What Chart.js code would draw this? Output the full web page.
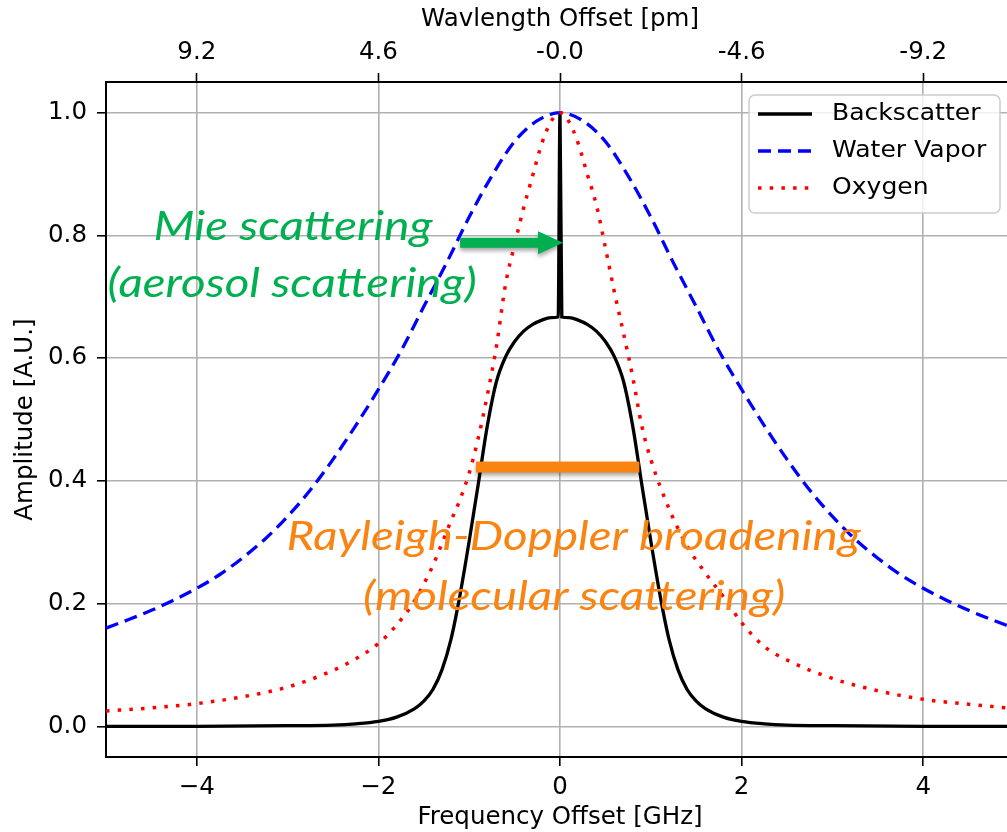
<!DOCTYPE html>
<html>
<head>
<meta charset="utf-8">
<script src="https://cdn.jsdelivr.net/npm/chart.js@4.4.1/dist/chart.umd.min.js"></script>
<style>
  html, body { margin: 0; padding: 0; overflow: hidden; background: #fff; }
  #wrap { position: absolute; left: 0; top: 0; width: 1020px; height: 832px; }
</style>
</head>
<body>
<div id="wrap"><canvas id="myChart" width="1020" height="832"></canvas></div>
<script>
// values (frequency offset in GHz, amplitude in A.U.)
var seriesNames = ["Backscatter", "Water Vapor", "Oxygen"];

var freqBack = [-5, -4, -3, -2.5, -2.25, -2, -1.8, -1.6, -1.5, -1.4, -1.3, -1.2, -1.1, -1, -0.9, -0.8, -0.7, -0.6, -0.5, -0.4, -0.3, -0.2, -0.1, -0.02, 0,
  0.02, 0.1, 0.2, 0.3, 0.4, 0.5, 0.6, 0.7, 0.8, 0.9, 1, 1.1, 1.2, 1.3, 1.4, 1.5, 1.6, 1.8, 2, 2.25, 2.5, 3, 4, 5];
var ampBack = [0, 0, 0.001, 0.002, 0.004, 0.008, 0.015, 0.029, 0.041, 0.06, 0.092, 0.142, 0.215, 0.302, 0.395, 0.49, 0.562, 0.602, 0.627, 0.644, 0.655, 0.662, 0.666, 0.667, 1.0,
  0.667, 0.666, 0.662, 0.655, 0.644, 0.627, 0.602, 0.562, 0.49, 0.395, 0.302, 0.215, 0.142, 0.092, 0.06, 0.041, 0.029, 0.015, 0.008, 0.004, 0.002, 0.001, 0, 0];

var freqWater = [-5, -4.75, -4.5, -4.25, -4, -3.75, -3.5, -3.25, -3, -2.75, -2.5, -2.25, -2, -1.75, -1.5, -1.25, -1, -0.75, -0.5, -0.25, 0,
  0.25, 0.5, 0.75, 1, 1.25, 1.5, 1.75, 2, 2.25, 2.5, 2.75, 3, 3.25, 3.5, 3.75, 4, 4.25, 4.5, 4.75, 5];
var ampWater = [0.16, 0.174, 0.189, 0.206, 0.225, 0.247, 0.274, 0.305, 0.342, 0.385, 0.435, 0.49, 0.549, 0.612, 0.684, 0.755, 0.83, 0.897, 0.953, 0.987, 1.0,
  0.987, 0.953, 0.897, 0.83, 0.755, 0.684, 0.612, 0.549, 0.49, 0.435, 0.385, 0.342, 0.305, 0.274, 0.247, 0.225, 0.206, 0.189, 0.174, 0.16];

var freqOxy = [-5, -4.5, -4, -3.5, -3, -2.5, -2.25, -2, -1.8, -1.6, -1.5, -1.4, -1.3, -1.2, -1.1, -1, -0.9, -0.8, -0.7, -0.6, -0.5, -0.4, -0.3, -0.2, -0.1, 0,
  0.1, 0.2, 0.3, 0.4, 0.5, 0.6, 0.7, 0.8, 0.9, 1, 1.2, 1.4, 1.6, 1.8, 2, 2.25, 2.5, 3, 3.5, 4, 4.5, 5];
var ampOxy = [0.025, 0.03, 0.037, 0.048, 0.064, 0.091, 0.11, 0.135, 0.165, 0.205, 0.232, 0.262, 0.298, 0.335, 0.37, 0.413, 0.47, 0.54, 0.619, 0.72, 0.785, 0.845, 0.898, 0.95, 0.985, 1.0,
  0.985, 0.95, 0.9, 0.85, 0.78, 0.707, 0.64, 0.57, 0.49, 0.435, 0.355, 0.294, 0.25, 0.211, 0.169, 0.13, 0.108, 0.078, 0.058, 0.044, 0.036, 0.029];

var freqTicks = [-4, -2, 0, 2, 4];
var waveLabels = ["9.2", "4.6", "-0.0", "-4.6", "-9.2"];
var ampTicks = [0, 0.2, 0.4, 0.6, 0.8, 1.0];

var tickFont = { family: "'DejaVu Sans', sans-serif", size: 24.5 };
var noteFont = "'Lato', 'Open Sans', sans-serif";
var green = "#00B050";
var orange = "#FA8411";

function pairs(xs, ys) {
  return xs.map(function (x, i) { return { x: x, y: ys[i] }; });
}

function setTicks(list) {
  return function (scale) {
    scale.ticks = list.map(function (v) { return { value: v }; });
  };
}

// text a little wider than the font, as in the picture
function wideText(ctx, text, x, y, sx) {
  ctx.save();
  ctx.translate(x, y);
  ctx.scale(sx, 1);
  ctx.fillText(text, 0, 0);
  ctx.restore();
}

// legend box in the upper right, like matplotlib's
var legendBox = {
  id: "legendBox",
  afterDraw: function (chart) {
    var ctx = chart.ctx;
    var ca = chart.chartArea;
    var right = ca.right - 14, top = ca.top + 13;
    var w = 251, h = 118, left = right - w;
    ctx.save();
    ctx.beginPath();
    ctx.roundRect(left, top, w, h, 6);
    ctx.fillStyle = "rgba(255,255,255,0.8)";
    ctx.fill();
    ctx.lineWidth = 1.5;
    ctx.strokeStyle = "#cccccc";
    ctx.stroke();
    chart.data.datasets.forEach(function (ds, i) {
      var y = top + 19 + i * 37;
      ctx.beginPath();
      ctx.setLineDash(ds.borderDash || []);
      ctx.lineWidth = ds.borderWidth;
      ctx.strokeStyle = ds.borderColor;
      ctx.moveTo(left + 9, y);
      ctx.lineTo(left + 63, y);
      ctx.stroke();
      ctx.setLineDash([]);
      ctx.fillStyle = "#000";
      ctx.font = "23px 'DejaVu Sans'";
      ctx.textBaseline = "middle";
      ctx.textAlign = "left";
      wideText(ctx, ds.label, left + 83, y, 1.09);
    });
    ctx.restore();
  }
};

// the arrow, the bar and the two notes laid over the plot
var notes = {
  id: "notes",
  afterDatasetsDraw: function (chart) {
    var ctx = chart.ctx;
    var xs = chart.scales.x, ys = chart.scales.y;
    ctx.save();

    // orange width bar
    var bx0 = xs.getPixelForValue(-0.926), bx1 = xs.getPixelForValue(0.874);
    var by = ys.getPixelForValue(0.4225);
    ctx.shadowColor = "rgba(0,0,0,0.35)";
    ctx.shadowBlur = 4;
    ctx.shadowOffsetY = 3;
    ctx.fillStyle = orange;
    ctx.fillRect(bx0, by - 5.5, bx1 - bx0, 11);

    // green arrow
    var ax0 = xs.getPixelForValue(-1.10), ax1 = xs.getPixelForValue(0.033);
    var ay = ys.getPixelForValue(0.788);
    ctx.fillStyle = green;
    ctx.beginPath();
    ctx.moveTo(ax0, ay - 5);
    ctx.lineTo(ax1 - 25, ay - 5);
    ctx.lineTo(ax1 - 25, ay - 11.5);
    ctx.lineTo(ax1, ay);
    ctx.lineTo(ax1 - 25, ay + 11.5);
    ctx.lineTo(ax1 - 25, ay + 5);
    ctx.lineTo(ax0, ay + 5);
    ctx.closePath();
    ctx.fill();
    ctx.shadowColor = "transparent";

    ctx.textAlign = "center";
    ctx.textBaseline = "alphabetic";
    ctx.font = "italic 41px " + noteFont;
    ctx.fillStyle = green;
    wideText(ctx, "Mie scattering", xs.getPixelForValue(-2.94), ys.getPixelForValue(0.793), 1.16);
    wideText(ctx, "(aerosol scattering)", xs.getPixelForValue(-2.95), ys.getPixelForValue(0.700), 1.16);
    ctx.fillStyle = orange;
    wideText(ctx, "Rayleigh-Doppler broadening", xs.getPixelForValue(0.15), ys.getPixelForValue(0.287), 1.16);
    wideText(ctx, "(molecular scattering)", xs.getPixelForValue(0.155), ys.getPixelForValue(0.189), 1.16);
    ctx.restore();
  }
};

window.addEventListener("load", function () {
  var ctx = document.getElementById("myChart").getContext("2d");
  var myChart = new Chart(ctx, {
    type: "line",
    data: {
      datasets: [
        {
          label: seriesNames[0],
          data: pairs(freqBack, ampBack),
          borderColor: "#000000",
          borderWidth: 3.3,
          pointRadius: 0,
          cubicInterpolationMode: "monotone",
          order: 3
        },
        {
          label: seriesNames[1],
          data: pairs(freqWater, ampWater),
          borderColor: "#0000FF",
          borderWidth: 3.3,
          borderDash: [13, 7],
          pointRadius: 0,
          cubicInterpolationMode: "monotone",
          order: 2
        },
        {
          label: seriesNames[2],
          data: pairs(freqOxy, ampOxy),
          borderColor: "#FF0000",
          borderWidth: 3.5,
          borderDash: [3.5, 8.2],
          pointRadius: 0,
          cubicInterpolationMode: "monotone",
          order: 1
        }
      ]
    },
    options: {
      responsive: false,
      animation: false,
      devicePixelRatio: 1,
      layout: { padding: { left: 0, right: 6, top: 0, bottom: 0 } },
      plugins: {
        legend: { display: false },
        tooltip: { enabled: false }
      },
      scales: {
        x: {
          type: "linear",
          position: "bottom",
          min: -5,
          max: 5,
          afterBuildTicks: setTicks(freqTicks),
          afterFit: function (s) { s.height = 75; },
          grid: { color: "#b0b0b0", lineWidth: 1.6, tickLength: 9, tickColor: "#000", tickWidth: 1.6 },
          border: { color: "#000", width: 2 },
          ticks: {
            font: tickFont,
            color: "#000",
            padding: 7,
            maxRotation: 0,
            callback: function (v) { return v < 0 ? "\u2212" + Math.abs(v) : String(v); }
          },
          title: { display: true, text: "Frequency Offset [GHz]", font: tickFont, color: "#000", padding: { top: 0, bottom: 0 } }
        },
        x2: {
          type: "linear",
          position: "top",
          min: -5,
          max: 5,
          afterBuildTicks: setTicks(freqTicks),
          afterFit: function (s) { s.height = 82; },
          grid: { drawOnChartArea: false, tickLength: 9, tickColor: "#000", tickWidth: 1.6 },
          border: { color: "#000", width: 2 },
          ticks: {
            font: tickFont,
            color: "#000",
            padding: 6,
            maxRotation: 0,
            callback: function (v, i) { return waveLabels[i]; }
          },
          title: { display: true, text: "Wavlength Offset [pm]", font: tickFont, color: "#000", padding: { top: 5, bottom: 0 } }
        },
        y: {
          type: "linear",
          min: -0.05,
          max: 1.05,
          afterBuildTicks: setTicks(ampTicks),
          afterFit: function (s) { s.width = 106; },
          grid: { color: "#b0b0b0", lineWidth: 1.6, tickLength: 9, tickColor: "#000", tickWidth: 1.6 },
          border: { color: "#000", width: 2 },
          ticks: {
            font: tickFont,
            color: "#000",
            padding: 10,
            callback: function (v) { return v.toFixed(1); }
          },
          title: { display: true, text: "Amplitude [A.U.]", font: tickFont, color: "#000", padding: { top: 11, bottom: 0 } }
        }
      }
    },
    plugins: [notes, legendBox]
  });
});
</script>
</body>
</html>
